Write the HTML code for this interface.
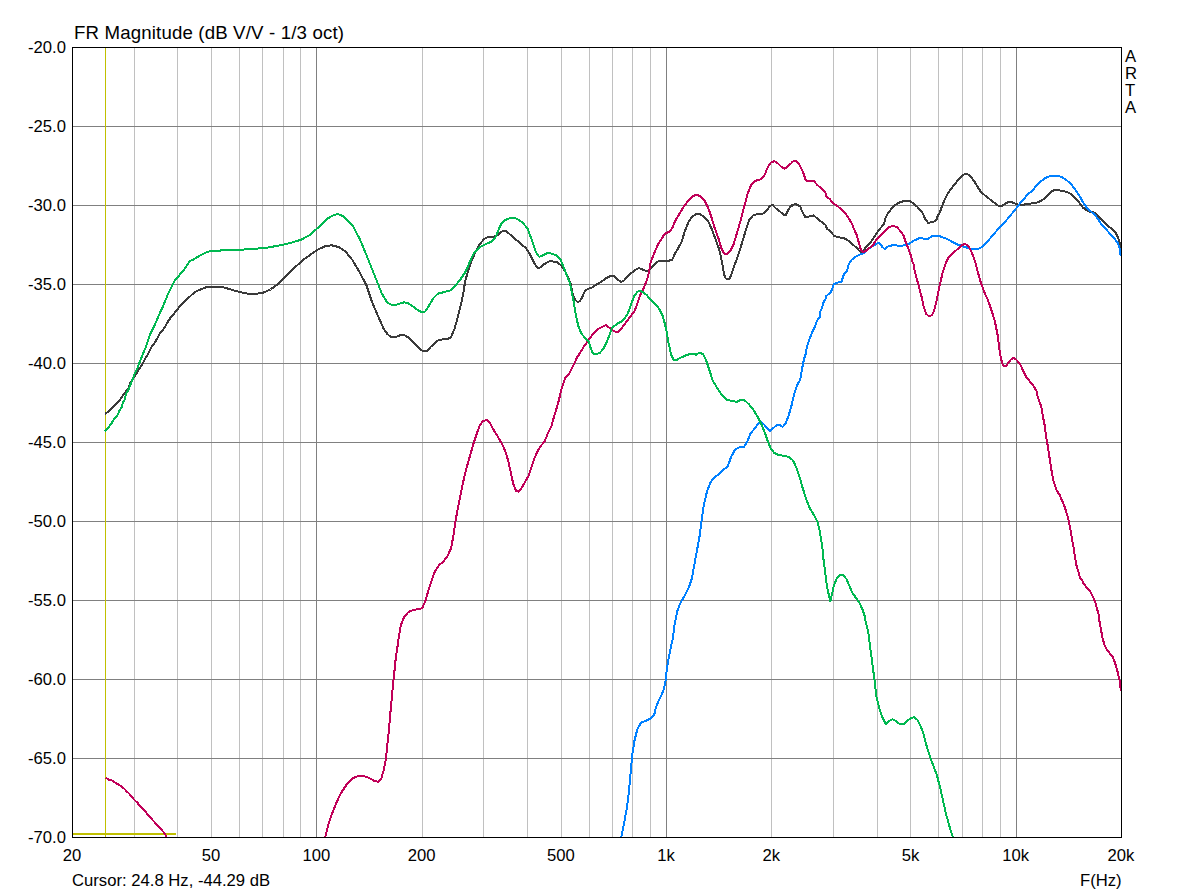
<!DOCTYPE html><html><head><meta charset="utf-8"><title>FR Magnitude</title><style>
html,body{margin:0;padding:0;background:#fff;}
body{width:1193px;height:894px;overflow:hidden;position:relative;font-family:"Liberation Sans",sans-serif;color:#000;}
.t{position:absolute;white-space:nowrap;font-size:16.67px;line-height:16px;}
.yl{text-align:right;width:60px;left:6px;}
.xl{text-align:center;width:60px;}
svg{position:absolute;left:0;top:0;}
</style></head><body>
<svg width="1193" height="894" viewBox="0 0 1193 894" shape-rendering="crispEdges">
<rect x="134" y="48" width="1" height="789" fill="#c0c0c0"/>
<rect x="177" y="48" width="1" height="789" fill="#c0c0c0"/>
<rect x="211" y="48" width="1" height="789" fill="#c0c0c0"/>
<rect x="239" y="48" width="1" height="789" fill="#c0c0c0"/>
<rect x="262" y="48" width="1" height="789" fill="#c0c0c0"/>
<rect x="283" y="48" width="1" height="789" fill="#c0c0c0"/>
<rect x="300" y="48" width="1" height="789" fill="#c0c0c0"/>
<rect x="422" y="48" width="1" height="789" fill="#c0c0c0"/>
<rect x="483" y="48" width="1" height="789" fill="#c0c0c0"/>
<rect x="527" y="48" width="1" height="789" fill="#c0c0c0"/>
<rect x="561" y="48" width="1" height="789" fill="#c0c0c0"/>
<rect x="589" y="48" width="1" height="789" fill="#c0c0c0"/>
<rect x="612" y="48" width="1" height="789" fill="#c0c0c0"/>
<rect x="632" y="48" width="1" height="789" fill="#c0c0c0"/>
<rect x="650" y="48" width="1" height="789" fill="#c0c0c0"/>
<rect x="771" y="48" width="1" height="789" fill="#c0c0c0"/>
<rect x="833" y="48" width="1" height="789" fill="#c0c0c0"/>
<rect x="877" y="48" width="1" height="789" fill="#c0c0c0"/>
<rect x="910" y="48" width="1" height="789" fill="#c0c0c0"/>
<rect x="938" y="48" width="1" height="789" fill="#c0c0c0"/>
<rect x="962" y="48" width="1" height="789" fill="#c0c0c0"/>
<rect x="982" y="48" width="1" height="789" fill="#c0c0c0"/>
<rect x="1000" y="48" width="1" height="789" fill="#c0c0c0"/>
<rect x="316" y="48" width="1" height="789" fill="#808080"/>
<rect x="666" y="48" width="1" height="789" fill="#808080"/>
<rect x="1016" y="48" width="1" height="789" fill="#808080"/>
<rect x="73" y="126" width="1048" height="1" fill="#808080"/>
<rect x="73" y="205" width="1048" height="1" fill="#808080"/>
<rect x="73" y="284" width="1048" height="1" fill="#808080"/>
<rect x="73" y="363" width="1048" height="1" fill="#808080"/>
<rect x="73" y="442" width="1048" height="1" fill="#808080"/>
<rect x="73" y="521" width="1048" height="1" fill="#808080"/>
<rect x="73" y="600" width="1048" height="1" fill="#808080"/>
<rect x="73" y="679" width="1048" height="1" fill="#808080"/>
<rect x="73" y="758" width="1048" height="1" fill="#808080"/>
<rect x="105" y="48" width="1" height="789" fill="#c0c000"/>
<rect x="73" y="833" width="103" height="2" fill="#c0c000"/>
<clipPath id="c"><rect x="73" y="48" width="1048" height="789"/></clipPath>
<g clip-path="url(#c)" fill="none" stroke-width="2" stroke-linejoin="bevel" stroke-linecap="butt">
<polyline stroke="#3a3a3a" points="105.0,413.9 108.4,411.5 112.0,408.3 115.6,404.7 119.2,400.7 122.7,395.8 125.9,391.3 129.0,387.7 129.9,383.7 133.5,377.9 137.1,372.5 140.6,366.7 143.3,362.7 144.6,359.6 148.1,354.1 151.1,347.5 154.2,343.5 157.2,338.5 159.7,333.4 162.7,330.4 165.2,326.4 167.8,321.8 170.8,317.3 174.3,313.3 177.8,308.8 181.3,304.7 185.9,300.2 191.9,294.7 195.3,291.7 200.3,289.6 205.4,287.5 210.4,286.7 221.3,286.7 227.2,288.4 233.9,290.5 240.6,292.1 249.8,294.2 253.8,294.0 262.2,293.1 270.5,289.5 278.9,283.3 287.3,274.9 295.7,266.6 304.1,259.3 312.5,253.1 317.6,249.8 324.6,246.4 331.6,245.3 338.6,247.0 345.6,251.7 352.5,260.1 359.5,272.1 366.5,285.3 372.1,302.1 377.7,315.2 383.3,328.1 387.5,334.2 391.7,337.6 395.9,337.0 400.1,335.3 404.3,335.1 408.5,337.6 414.1,343.2 419.7,348.8 422.5,351.0 426.7,351.0 430.8,346.8 435.0,342.6 439.2,339.8 443.4,339.3 447.6,339.3 451.0,337.0 454.6,328.6 457.4,318.8 460.2,307.7 463.0,295.1 465.2,281.1 468.0,271.3 471.4,261.5 475.6,251.7 479.8,244.2 484.0,239.1 488.2,236.9 493.8,236.9 498.0,235.0 502.2,231.3 505.5,230.8 509.1,233.6 514.7,238.6 520.3,243.3 525.9,248.1 530.1,254.5 534.3,262.9 537.1,267.7 539.9,267.7 544.1,264.3 549.7,261.0 552.0,261.3 557.6,262.4 561.8,266.1 566.0,273.0 570.5,282.9 572.3,292.3 574.6,298.8 577.0,301.7 579.3,301.5 581.7,298.2 584.0,292.9 585.8,290.0 588.2,288.8 591.7,287.6 596.4,284.7 601.1,281.7 605.8,278.5 610.5,275.9 614.0,275.9 617.5,279.4 621.0,281.7 623.4,281.2 628.1,275.9 632.8,271.8 635.1,270.0 638.7,268.0 642.9,269.7 647.1,271.1 651.3,268.0 655.5,263.3 659.7,260.5 663.9,261.0 668.1,261.0 672.2,259.6 675.0,253.5 678.4,247.9 682.0,240.9 684.8,231.1 688.5,222.1 691.8,217.1 696.0,214.3 700.2,214.3 704.4,217.1 708.6,222.1 712.0,229.7 715.6,239.5 719.2,249.3 722.0,261.9 724.0,274.4 725.9,278.6 729.6,278.6 732.4,271.6 735.2,263.3 738.8,253.5 742.2,242.3 745.5,231.1 749.1,219.9 752.8,215.7 757.5,213.8 761.7,214.3 765.9,211.5 769.6,206.5 772.4,204.8 775.7,208.2 779.9,211.5 782.7,213.8 785.5,215.7 788.3,210.1 791.9,204.5 792.0,205.7 795.4,203.8 799.0,205.7 800.0,205.8 802.3,211.7 805.3,217.0 809.4,216.4 813.5,215.4 817.6,218.7 821.7,222.0 825.3,224.6 827.0,228.7 830.5,231.6 834.1,235.8 837.6,237.3 843.5,237.8 848.2,240.5 852.9,244.6 857.6,248.7 859.9,251.6 862.8,252.2 865.2,248.1 868.7,244.6 871.6,241.0 874.6,236.3 877.5,231.9 881.0,227.5 884.0,224.0 885.2,218.7 887.5,214.0 891.0,209.3 894.0,206.0 897.5,203.5 901.0,201.7 905.7,201.1 909.8,201.1 913.3,203.5 917.5,207.0 922.2,212.3 925.1,218.7 928.0,222.8 932.1,222.3 936.2,220.5 938.0,215.2 940.0,212.3 941.6,207.1 944.4,200.1 948.0,193.1 952.0,187.5 955.6,183.3 959.2,178.6 962.6,175.0 966.8,173.6 970.4,176.4 973.8,180.5 977.1,186.1 980.8,191.7 985.0,195.4 989.1,198.7 993.3,202.1 997.5,205.2 1000.0,206.2 1002.9,205.4 1005.8,203.3 1008.7,201.8 1011.6,202.2 1014.5,203.3 1018.9,204.7 1023.3,204.7 1027.6,204.0 1032.0,203.3 1036.4,202.8 1040.7,201.1 1045.1,198.2 1049.4,193.8 1052.3,190.9 1055.3,189.9 1058.2,190.2 1062.5,190.9 1066.9,192.1 1071.3,194.1 1075.6,198.2 1079.2,202.5 1082.9,207.6 1086.5,210.1 1090.2,212.0 1093.8,212.4 1096.7,214.2 1100.3,218.5 1104.0,222.2 1107.6,225.8 1111.2,228.4 1114.9,231.6 1117.1,235.2 1118.9,240.3 1120.0,244.0 1120.7,247.6"/>
<polyline stroke="#0080ff" points="621.4,836.9 624.1,823.0 626.9,807.6 628.9,792.2 630.9,769.8 632.5,753.0 634.5,740.5 637.3,729.3 640.9,722.8 645.7,720.9 649.9,718.9 654.1,715.3 656.0,706.9 659.7,698.5 663.3,691.0 665.3,683.1 667.2,666.4 670.0,651.0 672.8,638.4 674.5,624.9 677.3,610.9 680.6,602.5 684.8,595.5 689.0,587.1 691.8,578.8 694.1,566.2 696.9,550.8 699.7,535.4 701.6,520.0 703.8,504.7 707.2,490.7 710.8,481.7 714.8,477.2 719.2,473.9 723.1,469.7 727.6,466.9 731.0,457.1 735.2,449.3 739.4,447.3 743.6,447.3 747.2,441.7 750.5,433.3 754.7,428.6 758.4,423.0 761.2,422.2 764.5,425.0 767.9,429.1 770.1,431.1 773.5,427.8 777.1,425.0 779.9,425.0 782.7,426.9 785.5,423.6 788.3,416.6 791.1,407.3 794.2,393.8 795.9,388.8 797.4,384.7 800.2,379.7 801.1,374.2 802.0,369.1 803.0,364.1 804.0,359.1 805.2,355.5 805.7,353.7 807.1,346.1 809.0,340.4 811.9,332.8 814.7,327.1 816.6,321.4 820.0,316.6 820.0,311.9 822.4,307.1 822.8,303.8 825.7,298.5 826.2,296.2 830.9,291.9 832.8,287.1 833.8,284.5 836.6,282.8 841.4,281.9 842.8,277.6 844.2,273.8 847.1,270.5 848.7,264.5 851.1,260.4 855.2,256.9 859.9,254.6 864.0,252.8 867.5,249.3 871.6,246.9 875.2,244.6 878.1,242.8 880.5,244.0 882.2,246.9 884.6,249.0 887.5,246.7 891.0,245.7 894.0,244.8 897.5,245.7 902.2,245.7 905.7,244.6 909.2,244.0 912.8,241.0 916.3,239.6 919.8,237.9 924.5,238.9 928.0,238.7 932.1,236.3 936.2,236.1 940.0,236.1 940.2,236.5 944.4,237.9 948.6,239.8 952.8,242.1 957.0,244.3 961.2,245.7 965.4,247.1 969.6,248.5 973.8,249.1 978.0,249.1 982.2,246.8 986.4,242.9 990.5,237.9 994.7,233.1 998.9,228.1 1000.0,227.2 1007.3,219.2 1014.5,210.5 1018.9,204.7 1023.3,199.6 1027.6,194.5 1032.0,190.9 1036.4,185.8 1040.7,181.4 1045.1,178.1 1049.4,176.4 1053.8,175.6 1058.2,175.9 1062.5,177.5 1066.9,180.4 1071.3,184.4 1075.6,190.2 1080.0,196.7 1083.6,203.3 1087.2,208.1 1090.9,211.5 1094.5,214.5 1098.2,219.2 1101.8,225.1 1106.2,229.4 1110.5,234.5 1114.9,239.3 1117.8,243.2 1119.5,248.3 1120.7,255.6"/>
<polyline stroke="#c00058" points="105.6,777.8 108.7,779.6 111.8,780.3 115.0,782.5 118.5,784.5 121.6,786.4 124.4,788.8 126.3,791.1 129.5,793.9 132.2,797.4 134.5,800.1 137.3,802.5 139.2,805.2 142.0,808.0 145.1,811.1 147.1,813.9 149.8,816.6 152.2,819.7 155.3,822.9 158.4,826.0 161.6,829.9 164.3,833.0 166.7,836.6"/>
<polyline stroke="#c00058" points="325.4,836.9 328.2,824.6 332.1,813.4 336.6,802.2 341.4,792.4 347.0,784.0 352.5,778.4 358.1,775.9 363.7,775.9 369.3,778.1 374.1,780.7 378.6,781.8 381.4,778.4 384.1,768.6 386.1,757.4 387.5,743.5 389.2,726.7 390.9,707.1 392.5,690.3 394.2,673.6 395.9,656.8 398.1,642.8 398.7,637.7 400.9,625.1 404.3,616.7 408.5,612.0 414.1,609.7 419.7,609.2 422.5,607.5 425.3,601.3 428.1,591.6 431.7,580.4 435.0,571.1 439.2,565.0 443.4,561.6 447.6,556.0 451.0,548.2 453.2,537.0 455.2,523.0 457.4,510.5 460.2,496.5 463.0,482.5 466.4,468.5 470.0,455.9 473.6,443.3 477.0,433.0 479.8,425.2 483.1,421.0 486.8,420.1 490.4,423.8 493.8,430.2 498.0,436.9 502.2,444.2 505.5,451.7 508.3,461.0 511.1,474.1 513.3,483.9 516.1,490.9 518.9,491.7 522.3,486.7 525.9,480.5 528.7,475.5 531.5,467.1 534.3,458.7 538.0,450.3 541.3,445.3 544.7,441.4 548.3,432.2 551.9,425.2 552.0,423.6 556.2,409.6 559.0,399.8 561.8,387.7 565.4,377.9 568.8,374.5 571.7,368.7 574.6,362.8 577.0,357.5 580.5,352.2 584.0,346.3 587.0,342.2 590.5,337.5 593.4,333.4 597.6,329.3 601.1,327.6 605.8,325.0 609.3,327.6 612.8,330.5 615.8,331.9 618.7,331.7 622.2,327.6 626.9,321.1 631.0,315.8 634.6,311.1 636.9,304.6 639.2,297.6 641.6,292.3 643.9,287.6 646.3,281.7 648.1,275.9 649.2,270.6 650.4,263.3 654.1,253.5 657.7,245.1 661.1,239.5 664.7,233.9 668.9,231.9 672.2,228.3 675.0,221.3 679.2,214.3 683.4,207.3 687.6,201.7 691.8,197.0 696.0,194.7 700.2,196.1 704.4,200.3 708.0,207.3 711.4,217.1 714.8,228.3 718.4,238.1 721.2,247.9 724.0,253.5 726.8,254.0 730.4,250.7 733.8,243.7 737.1,232.5 740.8,219.9 744.4,205.9 747.7,193.3 751.1,185.0 755.6,180.8 760.3,179.4 764.0,176.6 767.3,168.2 770.7,162.6 774.3,161.2 778.0,163.4 781.3,166.8 784.7,168.7 788.3,165.9 791.9,162.6 792.0,161.8 795.4,160.7 799.0,163.8 800.0,165.9 802.9,171.7 805.9,180.6 810.0,181.1 814.1,181.1 817.0,184.7 821.1,188.2 825.3,192.3 826.4,196.4 830.0,199.3 832.3,202.9 836.4,205.2 840.5,208.7 845.8,214.0 849.3,219.3 852.3,224.6 854.6,230.5 857.0,235.8 858.7,242.2 861.1,250.4 862.8,252.2 865.8,251.0 869.3,248.1 873.4,244.6 876.3,239.9 881.0,235.2 885.2,230.5 889.3,226.9 893.4,226.0 896.9,226.9 899.8,230.5 903.4,235.2 905.7,242.2 908.1,248.1 910.4,254.0 912.2,261.0 913.9,265.0 914.5,270.0 917.8,282.6 921.2,295.2 924.0,307.8 926.2,313.9 929.0,316.2 931.8,315.3 934.1,310.6 936.9,299.4 939.7,285.4 942.4,273.7 945.2,264.4 948.6,257.4 952.8,253.3 957.0,249.6 961.2,245.7 964.8,244.0 968.2,245.7 971.5,251.9 975.2,261.6 978.0,272.8 980.8,282.6 984.4,292.4 987.7,299.4 991.1,309.2 994.7,320.4 997.5,334.4 1000.0,353.8 1001.5,360.4 1003.2,365.9 1005.5,366.5 1008.0,363.3 1010.9,359.6 1013.8,357.9 1016.7,360.1 1020.4,364.7 1023.3,371.3 1026.2,377.1 1029.8,381.4 1033.4,385.8 1036.4,390.9 1038.1,398.2 1040.4,404.0 1041.9,409.8 1043.3,418.5 1044.8,425.8 1045.8,434.5 1047.3,443.2 1048.7,452.0 1050.2,462.1 1050.9,467.3 1052.3,474.5 1053.5,481.1 1055.3,486.2 1056.7,490.5 1059.6,494.9 1061.8,500.0 1064.0,505.1 1066.2,511.6 1068.1,518.2 1069.5,524.7 1071.0,532.7 1072.4,541.4 1073.9,549.4 1074.9,556.7 1076.3,564.7 1078.2,571.2 1080.0,577.8 1082.2,580.0 1083.6,583.6 1086.5,587.3 1090.2,591.6 1093.1,597.4 1095.2,601.8 1096.7,607.6 1098.6,614.2 1099.6,622.2 1101.1,630.2 1102.5,638.2 1104.4,644.7 1106.9,649.8 1109.8,653.4 1112.7,657.1 1114.9,662.2 1116.3,667.2 1118.1,673.8 1119.5,680.3 1120.4,686.2 1120.7,691.2"/>
<polyline stroke="#00b850" points="105.0,431.3 108.0,428.0 111.1,424.0 114.2,419.1 117.4,415.5 119.2,411.0 121.8,407.0 122.7,403.0 125.0,399.4 125.9,394.0 128.6,389.5 130.3,385.1 132.6,379.2 134.4,374.3 137.1,368.9 138.8,364.5 140.6,359.6 143.1,353.6 145.6,347.5 148.1,340.5 149.6,335.4 151.6,331.4 154.2,326.4 156.7,320.3 159.7,313.3 162.2,308.3 164.7,302.2 167.2,296.2 167.6,294.7 170.6,288.8 173.1,283.8 175.2,280.0 178.5,276.2 181.9,272.0 185.2,268.2 187.3,264.5 189.8,261.1 193.6,259.4 197.0,257.3 200.3,255.2 203.7,253.6 207.0,252.1 211.2,251.0 219.6,250.8 222.1,249.8 242.3,249.8 246.5,249.2 249.8,248.9 256.6,248.7 267.7,247.5 278.9,245.6 290.1,243.1 301.3,239.7 309.7,235.0 312.0,233.0 317.6,228.0 324.6,221.0 327.0,219.0 331.5,216.2 334.5,215.0 337.4,214.1 340.3,215.0 342.8,216.0 346.0,218.6 350.0,222.8 353.6,227.0 353.9,228.0 359.5,238.6 365.1,251.7 370.7,265.7 376.3,279.7 381.9,293.7 387.5,302.9 391.7,304.9 395.9,304.9 400.1,303.5 404.3,302.3 408.5,303.5 412.7,306.3 418.3,310.5 422.5,312.4 425.3,311.3 429.4,304.9 433.6,297.9 437.8,293.7 443.4,292.3 450.4,290.3 454.6,286.7 460.2,279.7 465.8,271.3 470.0,261.5 474.2,252.6 479.8,247.0 485.4,244.2 491.0,241.9 495.2,237.8 498.0,231.3 500.8,224.6 505.0,220.1 510.5,217.9 516.1,218.5 521.7,221.8 527.3,228.0 531.5,239.1 535.7,251.7 539.1,256.8 542.7,255.4 548.3,252.6 552.0,254.0 556.2,254.9 560.4,259.1 563.7,267.4 564.7,270.0 567.0,275.9 570.0,282.9 571.5,291.1 573.5,300.5 575.2,311.1 577.0,320.5 578.8,327.6 581.7,334.0 585.2,338.1 588.7,341.6 590.5,347.5 592.9,353.6 596.4,354.0 599.9,352.8 603.4,348.7 606.4,342.8 609.3,335.8 611.6,328.7 614.6,325.8 617.5,323.4 621.0,321.7 624.6,318.7 627.5,314.0 629.9,308.2 632.2,301.1 634.6,295.3 637.5,291.7 640.4,290.9 643.4,292.3 646.9,295.3 651.0,300.0 655.1,304.1 659.2,308.8 662.2,314.6 664.5,322.3 666.6,331.1 668.0,340.5 669.8,348.7 671.5,355.7 673.9,360.4 676.8,359.9 679.8,358.1 681.2,357.5 685.7,355.5 689.6,354.1 693.2,353.6 696.0,354.7 699.7,352.7 703.0,354.1 706.4,361.1 709.2,369.5 712.8,380.7 717.0,387.7 718.4,390.0 722.0,395.0 726.8,399.8 732.4,401.2 737.1,401.7 740.8,399.8 745.0,400.6 749.1,404.5 753.3,409.6 757.5,416.6 761.7,425.0 765.1,433.3 767.9,441.7 770.7,448.2 774.3,452.9 779.1,455.2 784.1,455.7 789.1,457.1 793.1,460.5 796.7,468.3 799.5,476.7 802.6,487.7 806.5,500.2 810.2,509.2 814.4,515.6 817.7,522.6 820.0,532.4 822.2,546.4 823.6,560.4 825.6,575.7 827.0,586.9 828.9,595.3 830.3,602.3 831.7,595.3 833.9,585.5 836.7,578.5 840.1,574.9 842.9,574.9 846.5,579.1 849.3,585.5 852.1,592.5 855.8,597.6 859.1,602.3 862.5,609.3 865.3,617.7 865.3,620.0 868.1,631.2 870.3,648.0 872.5,664.7 874.5,680.1 876.5,696.9 879.2,708.1 882.0,716.5 885.7,724.0 889.3,720.7 892.7,719.3 896.0,721.2 899.7,724.0 903.9,724.0 907.2,720.7 910.8,718.4 913.9,717.0 917.3,719.8 920.6,726.3 923.4,733.3 926.2,744.4 929.6,755.6 933.2,765.4 936.9,775.2 940.2,787.8 943.0,800.4 945.8,813.0 949.2,825.5 952.8,837.0"/>
</g>
<rect x="72" y="47" width="1050" height="1" fill="#000"/>
<rect x="72" y="837" width="1050" height="1" fill="#000"/>
<rect x="72" y="47" width="1" height="791" fill="#000"/>
<rect x="1121" y="47" width="1" height="791" fill="#000"/>
</svg>
<div class="t" style="left:74px;top:24px;font-size:18.67px;line-height:18px;letter-spacing:0.15px;">FR Magnitude (dB V/V - 1/3 oct)</div>
<div class="t yl" style="top:40px;">-20.0</div>
<div class="t yl" style="top:119px;">-25.0</div>
<div class="t yl" style="top:198px;">-30.0</div>
<div class="t yl" style="top:277px;">-35.0</div>
<div class="t yl" style="top:356px;">-40.0</div>
<div class="t yl" style="top:435px;">-45.0</div>
<div class="t yl" style="top:514px;">-50.0</div>
<div class="t yl" style="top:593px;">-55.0</div>
<div class="t yl" style="top:672px;">-60.0</div>
<div class="t yl" style="top:751px;">-65.0</div>
<div class="t yl" style="top:830px;">-70.0</div>
<div class="t xl" style="left:42.0px;top:848px;">20</div>
<div class="t xl" style="left:181.1px;top:848px;">50</div>
<div class="t xl" style="left:286.4px;top:848px;">100</div>
<div class="t xl" style="left:391.7px;top:848px;">200</div>
<div class="t xl" style="left:530.8px;top:848px;">500</div>
<div class="t xl" style="left:636.1px;top:848px;">1k</div>
<div class="t xl" style="left:741.3px;top:848px;">2k</div>
<div class="t xl" style="left:880.5px;top:848px;">5k</div>
<div class="t xl" style="left:985.7px;top:848px;">10k</div>
<div class="t xl" style="left:1091.0px;top:848px;">20k</div>
<div class="t" style="left:72px;top:873px;">Cursor: 24.8 Hz, -44.29 dB</div>
<div class="t" style="left:1080px;top:873px;">F(Hz)</div>
<div class="t" style="left:1125px;top:49px;">A</div>
<div class="t" style="left:1125px;top:66px;">R</div>
<div class="t" style="left:1125px;top:83px;">T</div>
<div class="t" style="left:1125px;top:100px;">A</div>
</body></html>
